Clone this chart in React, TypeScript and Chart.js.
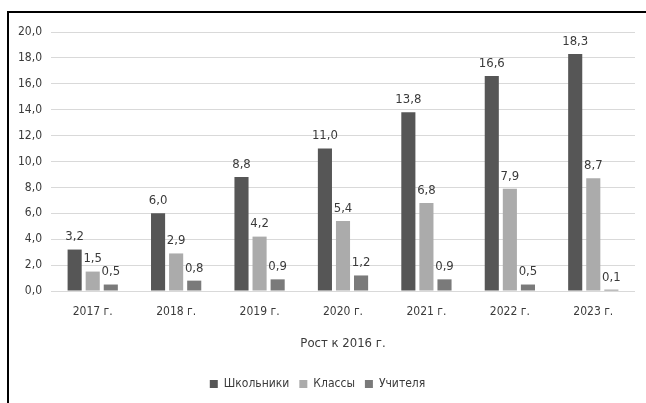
import React, { useEffect, useRef } from "react";
import { Chart, registerables } from "chart.js";

Chart.register(...registerables);

const categories = ["2017 г.", "2018 г.", "2019 г.", "2020 г.", "2021 г.", "2022 г.", "2023 г."];
const schoolchildren = [3.2, 6.0, 8.8, 11.0, 13.8, 16.6, 18.3];
const classes = [1.5, 2.9, 4.2, 5.4, 6.8, 7.9, 8.7];
const teachers = [0.5, 0.8, 0.9, 1.2, 0.9, 0.5, 0.1];
const seriesNames = ["Школьники", "Классы", "Учителя"];
const axisTitle = "Рост к 2016 г.";

const FONT = "'Liberation Sans Narrow', 'DejaVu Sans Condensed', sans-serif";
const fmt = (v: number) => v.toFixed(1).replace(".", ",");

const labelPlugin = {
  id: "valueLabels",
  afterDatasetsDraw(chart: any) {
    const ctx = chart.ctx;
    ctx.save();
    ctx.font = `13px ${FONT}`;
    ctx.fillStyle = "#3a3a3a";
    ctx.textAlign = "center";
    ctx.textBaseline = "bottom";
    chart.data.datasets.forEach((ds: any, i: number) => {
      const meta = chart.getDatasetMeta(i);
      meta.data.forEach((bar: any, j: number) => {
        ctx.fillText(fmt(ds.data[j]), bar.x, bar.y - 6);
      });
    });
    ctx.restore();
  },
};

export default function App() {
  const ref = useRef<HTMLCanvasElement>(null);
  useEffect(() => {
    if (!ref.current) return;
    const chart = new Chart(ref.current, {
      type: "bar",
      data: {
        labels: categories,
        datasets: [
          { label: seriesNames[0], data: schoolchildren, backgroundColor: "#565656" },
          { label: seriesNames[1], data: classes, backgroundColor: "#ababab" },
          { label: seriesNames[2], data: teachers, backgroundColor: "#7a7a7a" },
        ],
      },
      options: {
        animation: false,
        responsive: false,
        maintainAspectRatio: false,
        layout: { padding: { left: 0, right: 11, top: 32, bottom: 3 } },
        datasets: { bar: { categoryPercentage: 0.65, barPercentage: 0.78 } },
        plugins: {
          legend: {
            position: "bottom",
            labels: {
              boxWidth: 8,
              boxHeight: 8,
              padding: 10,
              color: "#3a3a3a",
              font: { family: FONT, size: 12 },
            },
          },
          tooltip: { enabled: false },
        },
        scales: {
          x: {
            grid: { display: false, drawTicks: false },
            border: { display: false },
            ticks: { color: "#3a3a3a", padding: 14, font: { family: FONT, size: 12 } },
            title: {
              display: true,
              text: axisTitle,
              color: "#3a3a3a",
              font: { family: FONT, size: 13 },
              padding: { top: 2, bottom: 17 },
            },
          },
          y: {
            min: 0,
            max: 20,
            afterFit: (s: any) => {
              s.width = 51;
            },
            grid: { color: "#d9d9d9", drawTicks: false },
            border: { display: false },
            ticks: {
              stepSize: 2,
              padding: 9,
              color: "#3a3a3a",
              font: { family: FONT, size: 12 },
              callback: (v: any) => fmt(Number(v)),
            },
          },
        },
      },
      plugins: [labelPlugin],
    });
    return () => chart.destroy();
  }, []);
  return (
    <div style={{ position: "fixed", left: 0, top: 0, width: 646, height: 403, background: "#fff", overflow: "hidden" }}>
      <div
        style={{
          position: "absolute",
          left: 7,
          top: 11,
          width: 660,
          height: 420,
          border: "2px solid #000",
          boxSizing: "border-box",
        }}
      />
      <canvas ref={ref} width={646} height={403} style={{ position: "absolute", left: 0, top: 0 }} />
    </div>
  );
}
